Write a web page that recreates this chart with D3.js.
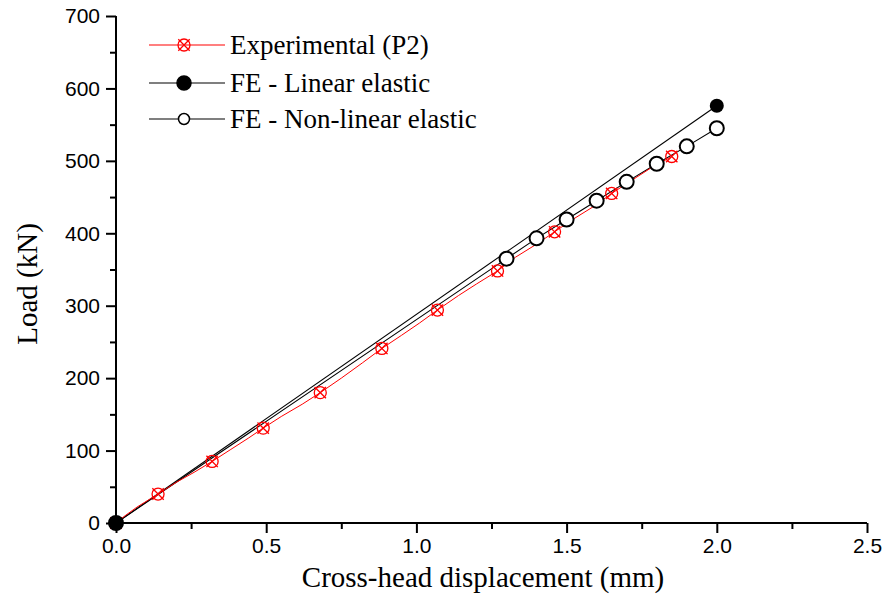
<!DOCTYPE html>
<html>
<head>
<meta charset="utf-8">
<script src="https://cdn.jsdelivr.net/npm/d3@7"></script>
<style>
  body { margin: 0; background: #fff; }
  svg { display: block; }
</style>
</head>
<body>
<svg id="chart" width="887" height="604"></svg>
<script>
// experimental curve (P2)
var expX = [0, 0.03, 0.07, 0.14, 0.2, 0.26, 0.32, 0.38, 0.44, 0.49, 0.55, 0.62, 0.68, 0.75, 0.82, 0.885, 0.95, 1.01, 1.07, 1.14, 1.2, 1.27, 1.33, 1.4, 1.46, 1.52, 1.59, 1.65, 1.72, 1.78, 1.85];
var expY = [0, 10, 22, 40, 56, 70, 85, 101, 117, 131, 147, 164, 180, 200, 221, 241, 259, 276, 294, 314, 330, 348, 367, 385, 402, 419, 437, 455, 474, 490, 506];
// points that carry a marker
var expMarkX = [0, 0.14, 0.32, 0.49, 0.68, 0.885, 1.07, 1.27, 1.46, 1.65, 1.85];
var expMarkY = [0, 40, 85, 131, 180, 241, 294, 348, 402, 455, 506];

var linX = [0, 2.0];
var linY = [0, 576];

var nonX = [0, 1.3, 1.4, 1.5, 1.6, 1.7, 1.8, 1.9, 2.0];
var nonY = [0, 365, 393, 419, 445, 471, 496, 520, 545];

var xTicks = [0, 0.5, 1.0, 1.5, 2.0, 2.5];
var yTicks = [0, 100, 200, 300, 400, 500, 600, 700];

var legendNames = ["Experimental (P2)", "FE - Linear elastic", "FE - Non-linear elastic"];

var svg = d3.select("#chart");
var x = d3.scaleLinear().domain([0, 2.5]).range([116, 867]);
var y = d3.scaleLinear().domain([0, 700]).range([523, 16]);

var serif = "'Liberation Serif', 'DejaVu Serif', serif";
var sans = "'Liberation Sans', Arial, sans-serif";

// axes
var xAxis = d3.axisBottom(x).tickValues(xTicks).tickFormat(d3.format(".1f")).tickSize(10).tickPadding(5);
var xMinor = d3.axisBottom(x).tickValues([0.25, 0.75, 1.25, 1.75, 2.25]).tickFormat("").tickSize(6);
var yAxis = d3.axisLeft(y).tickValues(yTicks).tickFormat(d3.format("d")).tickSize(10).tickPadding(6);
var yMinor = d3.axisLeft(y).tickValues([50, 150, 250, 350, 450, 550, 650]).tickFormat("").tickSize(6);

function styleAxis(g) {
  g.select(".domain").attr("stroke", "#000").attr("stroke-width", 2);
  g.selectAll(".tick line").attr("stroke", "#000").attr("stroke-width", 2);
  g.selectAll("text").attr("font-family", sans).attr("font-size", 21).attr("fill", "#000");
}

svg.append("g").attr("transform", "translate(0,523)").call(xMinor).call(styleAxis).select(".domain").remove();
svg.append("g").attr("transform", "translate(116,0)").call(yMinor).call(styleAxis).select(".domain").remove();
svg.append("g").attr("transform", "translate(0,523)").call(xAxis).call(styleAxis)
  .select(".domain").attr("d", "M116,0H867");
svg.append("g").attr("transform", "translate(116,0)").call(yAxis).call(styleAxis)
  .select(".domain").attr("d", "M0,16V523");

// axis titles
svg.append("text").attr("x", 483).attr("y", 587).attr("text-anchor", "middle")
  .attr("font-family", serif).attr("font-size", 29).text("Cross-head displacement (mm)");
svg.append("text").attr("transform", "translate(37,284) rotate(-90)").attr("text-anchor", "middle")
  .attr("font-family", serif).attr("font-size", 29).text("Load (kN)");

var line = d3.line().x(function(d){ return x(d[0]); }).y(function(d){ return y(d[1]); });

var linData = d3.zip(linX, linY);
var nonData = d3.zip(nonX, nonY);
var expData = d3.zip(expX, expY);
var expMarks = d3.zip(expMarkX, expMarkY);

svg.append("path").datum(linData).attr("d", line).attr("fill", "none").attr("stroke", "#000").attr("stroke-width", 1.1);
svg.append("path").datum(nonData).attr("d", line).attr("fill", "none").attr("stroke", "#000").attr("stroke-width", 1.1);
svg.append("path").datum(expData).attr("d", line).attr("fill", "none").attr("stroke", "#f00").attr("stroke-width", 1);

function crossMarker(g, cx, cy) {
  var r = 6;
  g.append("circle").attr("cx", cx).attr("cy", cy).attr("r", r)
    .attr("fill", "none").attr("stroke", "#f00").attr("stroke-width", 1.3);
  var k = r * 0.95;
  g.append("path").attr("d", "M" + (cx - k) + "," + (cy - k) + "L" + (cx + k) + "," + (cy + k) +
    "M" + (cx + k) + "," + (cy - k) + "L" + (cx - k) + "," + (cy + k))
    .attr("stroke", "#f00").attr("stroke-width", 1.3);
}

var expG = svg.append("g");
expMarks.forEach(function(d){ crossMarker(expG, x(d[0]), y(d[1])); });

svg.selectAll("circle.non").data(nonData).enter().append("circle").attr("class", "non")
  .attr("cx", function(d){ return x(d[0]); }).attr("cy", function(d){ return y(d[1]); })
  .attr("r", 7).attr("fill", "#fff").attr("stroke", "#000").attr("stroke-width", 2);

svg.selectAll("circle.lin").data(linData).enter().append("circle").attr("class", "lin")
  .attr("cx", function(d){ return x(d[0]); }).attr("cy", function(d){ return y(d[1]); })
  .attr("r", 7).attr("fill", "#000");

// legend
var legY = [45, 83, 119];
var leg = svg.append("g");
legendNames.forEach(function(name, i) {
  var col = i === 0 ? "#f00" : "#000";
  leg.append("line").attr("x1", 149).attr("x2", 225).attr("y1", legY[i]).attr("y2", legY[i])
    .attr("stroke", col).attr("stroke-width", 1.1);
  if (i === 0) crossMarker(leg, 184, legY[i]);
  else leg.append("circle").attr("cx", 184).attr("cy", legY[i]).attr("r", i === 1 ? 7 : 5.5)
    .attr("fill", i === 1 ? "#000" : "#fff").attr("stroke", "#000").attr("stroke-width", 1.5);
  leg.append("text").attr("x", 230).attr("y", legY[i] + 9).attr("font-family", serif)
    .attr("font-size", 27).text(name);
});
</script>
</body>
</html>
